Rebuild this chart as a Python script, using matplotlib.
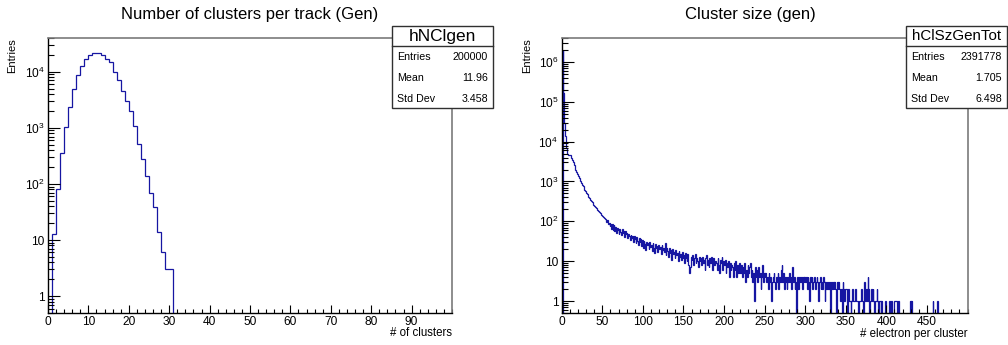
import matplotlib
matplotlib.use("Agg")
import matplotlib.pyplot as plt
import matplotlib.ticker as mticker
import matplotlib.patches as mpatches
import numpy as np

plt.rcParams['font.family'] = ['Liberation Sans', 'DejaVu Sans']
plt.rcParams['mathtext.fontset'] = 'custom'
plt.rcParams['mathtext.rm'] = 'Liberation Sans'
plt.rcParams['mathtext.it'] = 'Liberation Sans'

# --- data -----------------------------------------------------------------
# number of clusters per track, bins [i, i+1) for i = 0..99
ncl_counts = [
    0, 13, 81, 353, 1050, 2380, 4980, 8630, 12600, 16600,
    19600, 21500, 21500, 19800, 16600, 14700, 10000, 7100, 4600, 2960,
    2020, 1080, 510, 280, 141, 68, 39, 14, 6, 3,
    3, 0, 0, 0, 0, 0, 0, 0, 0, 0,
    0, 0, 0, 0, 0, 0, 0, 0, 0, 0,
    0, 0, 0, 0, 0, 0, 0, 0, 0, 0,
    0, 0, 0, 0, 0, 0, 0, 0, 0, 0,
    0, 0, 0, 0, 0, 0, 0, 0, 0, 0,
    0, 0, 0, 0, 0, 0, 0, 0, 0, 0,
    0, 0, 0, 0, 0, 0, 0, 0, 0, 0,
]

# cluster size (electrons per cluster), bins [i, i+1) for i = 0..499
clsz_counts = [
    0, 2000000, 170000, 30000, 14000, 7000, 5200, 4800, 4700, 4600,
    4500, 4300, 4000, 3500, 3000, 2600, 2300, 2000, 1750, 1550,
    1380, 1240, 1110, 1000, 905, 820, 750, 690, 625, 575,
    525, 480, 445, 410, 378, 352, 322, 300, 285, 262,
    248, 231, 214, 205, 190, 178, 170, 158, 150, 142,
    138, 125, 121, 112, 108, 97, 110, 84, 92, 75,
    88, 66, 84, 60, 79, 58, 73, 52, 70, 61,
    48, 66, 55, 45, 63, 50, 58, 41, 56, 47,
    52, 38, 49, 43, 34, 46, 39, 44, 31, 42,
    36, 29, 40, 33, 26, 38, 30, 35, 24, 34,
    22, 33, 27, 19, 31, 25, 28, 20, 30, 23,
    26, 18, 29, 22, 16, 27, 21, 24, 17, 25,
    20, 23, 15, 26, 19, 22, 17, 29, 14, 21,
    18, 13, 22, 16, 19, 11, 20, 15, 17, 12,
    19, 14, 16, 10, 18, 13, 15, 11, 17, 12,
    14, 9, 16, 12, 10, 15, 8, 5, 7, 13,
    11, 14, 8, 12, 15, 9, 12, 10, 7, 13,
    10, 12, 8, 13, 9, 11, 6, 12, 14, 8,
    11, 7, 12, 9, 13, 6, 10, 12, 8, 10,
    9, 6, 12, 8, 5, 11, 9, 13, 6, 10,
    8, 11, 5, 9, 7, 10, 4, 9, 6, 8,
    7, 4, 9, 6, 10, 4, 8, 5, 6, 9,
    5, 8, 4, 7, 5, 9, 3, 6, 4, 8,
    5, 7, 9, 4, 6, 3, 5, 1, 7, 4,
    6, 3, 7, 4, 5, 2, 4, 8, 3, 5,
    4, 5, 3, 4, 2, 5, 3, 4, 1, 3,
    4, 5, 3, 2, 4, 3, 5, 2, 4, 3,
    6, 8, 3, 5, 2, 4, 3, 2, 4, 3,
    5, 3, 4, 2, 7, 3, 4, 2, 3, 0,
    4, 2, 3, 4, 3, 4, 2, 4, 3, 4,
    3, 4, 2, 4, 3, 1, 4, 3, 4, 2,
    3, 4, 2, 3, 4, 3, 1, 3, 4, 2,
    3, 2, 4, 3, 1, 3, 2, 3, 2, 3,
    2, 0, 3, 2, 3, 2, 3, 2, 0, 3,
    2, 3, 2, 1, 2, 0, 3, 2, 1, 2,
    2, 1, 0, 2, 1, 1, 0, 1, 2, 1,
    1, 1, 2, 1, 1, 0, 1, 1, 1, 2,
    1, 0, 1, 3, 1, 2, 1, 4, 2, 0,
    1, 2, 1, 2, 1, 0, 1, 1, 2, 1,
    0, 1, 1, 0, 1, 0, 0, 0, 1, 0,
    0, 0, 0, 1, 0, 0, 1, 0, 0, 0,
    1, 1, 1, 0, 1, 1, 0, 0, 0, 0,
    0, 0, 0, 0, 0, 0, 0, 0, 0, 1,
    0, 1, 0, 0, 0, 0, 0, 0, 0, 0,
    0, 0, 0, 0, 0, 0, 0, 0, 0, 0,
    0, 0, 0, 0, 0, 0, 0, 1, 0, 0,
    0, 0, 1, 1, 0, 0, 0, 0, 0, 0,
    0, 0, 0, 0, 0, 0, 0, 0, 0, 0,
    0, 0, 0, 0, 0, 0, 0, 0, 0, 0,
    0, 0, 0, 0, 0, 0, 0, 0, 0, 0,
]

titles = ["Number of clusters per track (Gen)", "Cluster size (gen)"]
xlabels = ["# of clusters", "# electron per cluster"]
hist_names = ["hNClgen", "hClSzGenTot"]
stat_labels = ["Entries", "Mean", "Std Dev"]
stat_values = [["200000", "11.96", "3.458"], ["2391778", "1.705", "6.498"]]

left_xticks = [0, 10, 20, 30, 40, 50, 60, 70, 80, 90]
right_xticks = [0, 50, 100, 150, 200, 250, 300, 350, 400, 450]
left_yticks = [1, 10, 1e2, 1e3, 1e4]
left_ylabels = ["1", "10", r"$10^{2}$", r"$10^{3}$", r"$10^{4}$"]
right_yticks = [1, 10, 1e2, 1e3, 1e4, 1e5, 1e6]
right_ylabels = ["1", "10", r"$10^{2}$", r"$10^{3}$", r"$10^{4}$", r"$10^{5}$", r"$10^{6}$"]

# --- figure ---------------------------------------------------------------
W, H = 1008, 345
fig = plt.figure(figsize=(W / 100, H / 100), dpi=100)
fig.patch.set_facecolor("white")

line_col = "#1616a2"


def px_rect(x0, y0, x1, y1):
    # pixel box (top-left origin) -> figure fraction [l, b, w, h]
    return [x0 / W, 1 - y1 / H, (x1 - x0) / W, (y1 - y0) / H]


def draw_hist(rect, counts, xmax, xticks, xminor, yticks, ylabels, ymax):
    ax = fig.add_axes(px_rect(*rect))
    counts = np.asarray(counts, dtype=float)
    edges = np.arange(len(counts) + 1)
    shown = np.where(counts > 0, counts, 1e-3)  # empty bins drop to the frame bottom like ROOT
    ax.stairs(shown, edges, baseline=None, color=line_col, lw=0.9)
    ax.set_yscale("log")
    ax.set_xlim(0, xmax)
    ax.set_ylim(0.5, ymax)

    ax.xaxis.set_major_locator(mticker.FixedLocator(xticks))
    ax.xaxis.set_minor_locator(mticker.MultipleLocator(xminor))
    ax.yaxis.set_major_locator(mticker.FixedLocator(yticks))
    ax.yaxis.set_major_formatter(mticker.FixedFormatter(ylabels))
    ax.yaxis.set_minor_locator(mticker.LogLocator(base=10, subs=np.arange(2, 10), numticks=50))
    ax.yaxis.set_minor_formatter(mticker.NullFormatter())

    ax.tick_params(axis="x", which="major", direction="in", length=5.5, width=0.8,
                   labelsize=8.6, pad=2.5, top=False)
    ax.tick_params(axis="x", which="minor", direction="in", length=2.8, width=0.8, top=False)
    ax.tick_params(axis="y", which="major", direction="in", length=8.5, width=0.8,
                   labelsize=8.6, pad=2.5, right=False)
    ax.tick_params(axis="y", which="minor", direction="in", length=4.3, width=0.8, right=False)

    for side in ["left", "bottom"]:
        ax.spines[side].set_color("black")
        ax.spines[side].set_linewidth(1.0)
    for side in ["top", "right"]:
        ax.spines[side].set_color("#7a7a7a")
        ax.spines[side].set_linewidth(1.2)
    return ax


ax1 = draw_hist((48, 38, 452, 313), ncl_counts, 100, left_xticks, 2,
                left_yticks, left_ylabels, 4.0e4)
ax2 = draw_hist((561.7, 38, 967.5, 313), clsz_counts, 500, right_xticks, 10,
                right_yticks, right_ylabels, 4.0e6)

# titles, axis labels
fig.text(250 / W, 1 - 15 / H, titles[0], ha="center", va="center", fontsize=12)
fig.text(750.5 / W, 1 - 15 / H, titles[1], ha="center", va="center", fontsize=12)
fig.text(12.3 / W, 1 - 38 / H, "Entries", rotation=90, ha="center", va="top", fontsize=8)
fig.text(526.7 / W, 1 - 38 / H, "Entries", rotation=90, ha="center", va="top", fontsize=8)
fig.text(452 / W, 1 - 333.5 / H, xlabels[0], ha="right", va="center", fontsize=8.3)
fig.text(967.5 / W, 1 - 333.5 / H, xlabels[1], ha="right", va="center", fontsize=8.3)


# stats boxes
def stats_box(x0, x1, name, values, title_size):
    y0, ydiv, y1 = 25.7, 46, 108
    box = mpatches.Rectangle((x0 / W, 1 - y1 / H), (x1 - x0) / W, (y1 - y0) / H,
                             transform=fig.transFigure, facecolor="white",
                             edgecolor="#303030", lw=1.0, zorder=5)
    fig.patches.append(box)
    fig.lines.append(plt.Line2D([x0 / W, x1 / W], [1 - ydiv / H, 1 - ydiv / H],
                                transform=fig.transFigure, color="#303030", lw=1.0, zorder=6))
    fig.text((x0 + x1) / 2 / W, 1 - 36 / H, name, ha="center", va="center",
             fontsize=title_size, zorder=7)
    for lab, val, yy in zip(stat_labels, values, [57.3, 78.3, 98.7]):
        fig.text((x0 + 5) / W, 1 - yy / H, lab, ha="left", va="center", fontsize=7.7, zorder=7)
        fig.text((x1 - 5) / W, 1 - yy / H, val, ha="right", va="center", fontsize=7.7, zorder=7)


stats_box(392, 493, hist_names[0], stat_values[0], 12.4)
stats_box(906, 1007, hist_names[1], stat_values[1], 10.9)

fig.savefig("out.png", dpi=100)
